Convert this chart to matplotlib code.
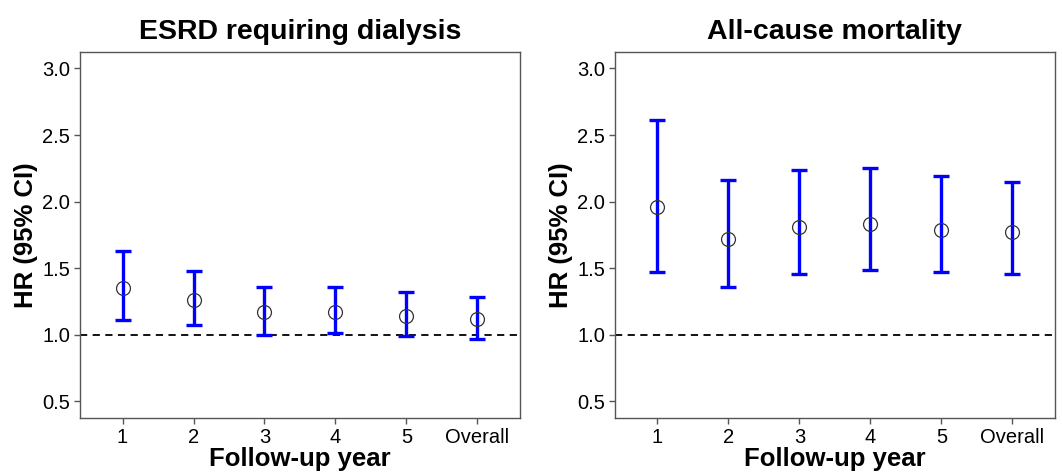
import matplotlib
matplotlib.use("Agg")
import matplotlib.pyplot as plt

plt.rcParams['font.family'] = ['Liberation Sans', 'DejaVu Sans']

years = ["1", "2", "3", "4", "5", "Overall"]

esrd_hr = [1.35, 1.26, 1.17, 1.17, 1.14, 1.12]
esrd_lo = [1.11, 1.07, 1.00, 1.01, 0.99, 0.97]
esrd_hi = [1.63, 1.48, 1.36, 1.36, 1.32, 1.28]

mort_hr = [1.96, 1.72, 1.81, 1.83, 1.79, 1.77]
mort_lo = [1.47, 1.36, 1.46, 1.49, 1.47, 1.46]
mort_hi = [2.61, 2.16, 2.24, 2.25, 2.19, 2.15]

titles = ["ESRD requiring dialysis", "All-cause mortality"]


def draw_panel(ax, hr, lo, hi, title):
    x = list(range(1, len(years) + 1))
    err_lo = [h - l for h, l in zip(hr, lo)]
    err_hi = [u - h for h, u in zip(hr, hi)]
    ax.axhline(1.0, color="black", linestyle=(0, (4, 3)), linewidth=1.3, zorder=1)
    ax.errorbar(x, hr, yerr=[err_lo, err_hi], fmt="none", ecolor="#0000ff",
                elinewidth=2.4, capsize=5.6, capthick=2.4, zorder=2)
    ax.plot(x, hr, "o", markersize=10, markerfacecolor="none",
            markeredgecolor="#333333", markeredgewidth=0.9, zorder=3)
    ax.set_xlim(0.4, 6.6)
    ax.set_ylim(0.375, 3.125)
    ax.set_xticks(x)
    ax.set_xticklabels(years)
    ax.set_yticks([0.5, 1.0, 1.5, 2.0, 2.5, 3.0])
    ax.set_yticklabels(["0.5", "1.0", "1.5", "2.0", "2.5", "3.0"])
    ax.tick_params(axis="both", labelsize=14.5, color="#555555", length=4,
                   width=1, labelcolor="black", pad=3)
    for s in ax.spines.values():
        s.set_color("#555555")
        s.set_linewidth(1)
    ax.set_title(title, fontsize=20.5, fontweight="bold", pad=9)
    ax.set_xlabel("Follow-up year", fontsize=18.5, fontweight="bold", labelpad=0)
    ax.set_ylabel("HR (95% CI)", fontsize=18.5, fontweight="bold", labelpad=3)


fig = plt.figure(figsize=(10.62, 4.75), dpi=100)
ax1 = fig.add_axes([0.0753, 0.12, 0.4143, 0.771])
ax2 = fig.add_axes([0.579, 0.12, 0.4143, 0.771])

draw_panel(ax1, esrd_hr, esrd_lo, esrd_hi, titles[0])
draw_panel(ax2, mort_hr, mort_lo, mort_hi, titles[1])

fig.savefig("out.png", dpi=100)
